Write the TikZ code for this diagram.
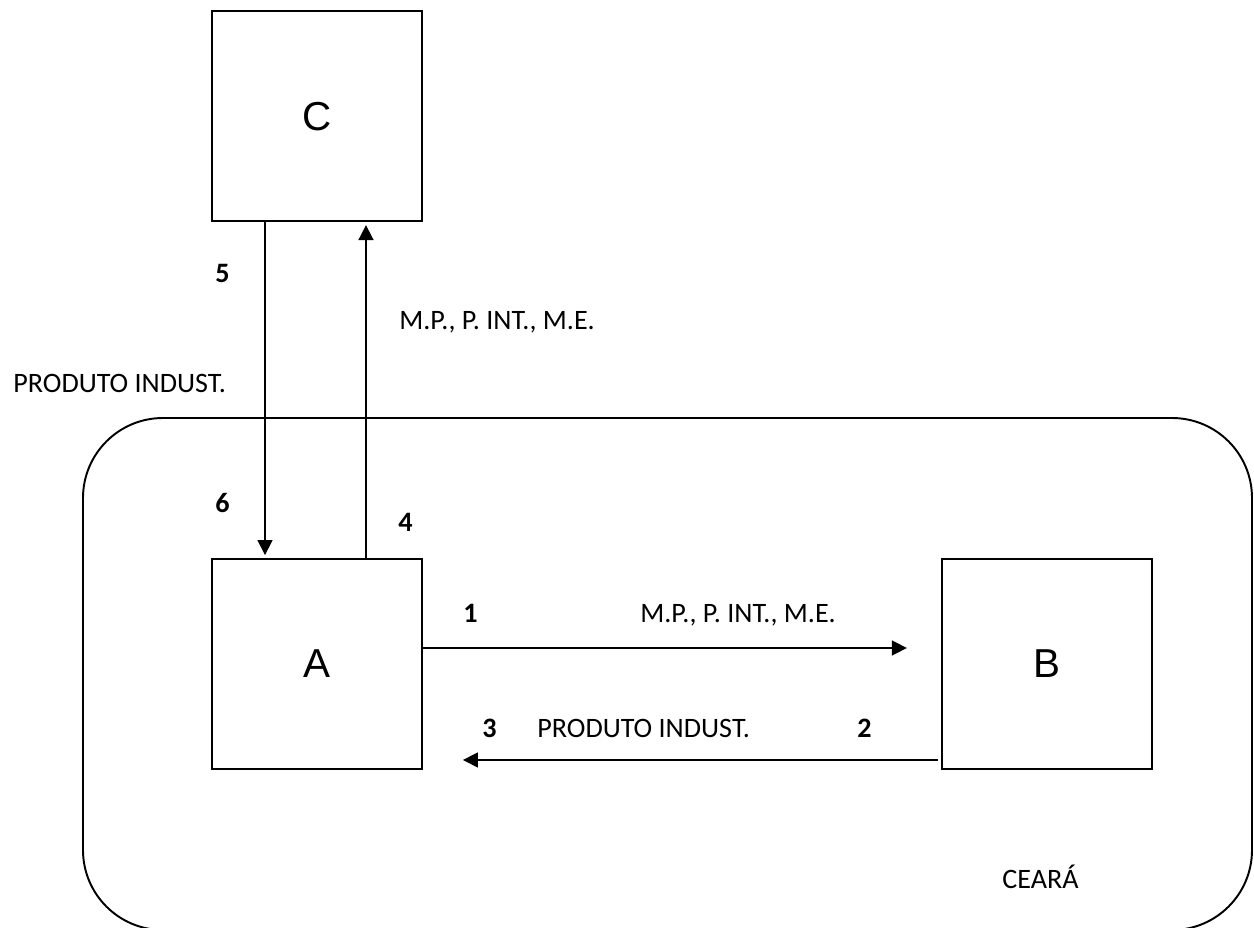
\documentclass[tikz,border=0pt]{standalone}
\usepackage{fontspec}
\setmainfont{Carlito}
\newfontfamily\boxfont{Liberation Sans}
\usetikzlibrary{positioning}
\usetikzlibrary{arrows.meta}
\tikzstyle{block} = [draw, rectangle, line width=1.1pt, minimum width=4.2cm, minimum height=4.2cm, font=\boxfont\fontsize{23}{27}\selectfont]
\tikzstyle{region} = [draw, line width=1.1pt, rounded corners=1.6cm]
\tikzstyle{flow} = [line width=0.9pt, -{Triangle[length=8.5pt, width=8.5pt]}]
\tikzstyle{lbl} = [anchor=base west, inner sep=0pt, font=\fontsize{16}{19}\selectfont]
\tikzstyle{num} = [anchor=base west, inner sep=0pt, font=\bfseries\fontsize{16}{19}\selectfont]

\begin{document}
\begin{tikzpicture}[x=0.02cm, y=0.02cm]
  \useasboundingbox (0,0) rectangle (1254,927);
  \draw[region] (83,-3) rectangle (1252,509);

  \node[block] (A) at (317,263) {A};
  \node[block, above=6.72cm of A] (C) {C};
  \node[block, right=10.36cm of A] (B) {B};

  \draw[flow] ([xshift=-1.04cm]C.south) -- ([xshift=-1.04cm, yshift=0.06cm]A.north);
  \draw[flow] ([xshift=0.98cm]A.north) -- ([xshift=0.98cm, yshift=-0.06cm]C.south);
  \draw[flow] ([yshift=0.32cm]A.east) -- ([xshift=-0.68cm, yshift=0.32cm]B.west);
  \draw[flow] ([xshift=-0.06cm, yshift=-1.92cm]B.west) -- ([xshift=0.8cm, yshift=-1.92cm]A.east);

  \node[num] (n5) at (215,644) {5};
  \node[num] (n6) at (215,414) {6};
  \node[num] (n4) at (398,395) {4};
  \node[lbl] (mpUp) at (399,597) {M.P., P. INT., M.E.};
  \node[lbl] (piUp) at (13,534) {PRODUTO INDUST.};
  \node[num] (n1) at (463,305) {1};
  \node[lbl] (mpLow) at (640,305) {M.P., P. INT., M.E.};
  \node[num] (n3) at (482,190) {3};
  \node[lbl] (piLow) at (537,190) {PRODUTO INDUST.};
  \node[num] (n2) at (857,190) {2};
  \node[lbl] (ceara) at (1002,39) {CEARÁ};
\end{tikzpicture}
\end{document}
